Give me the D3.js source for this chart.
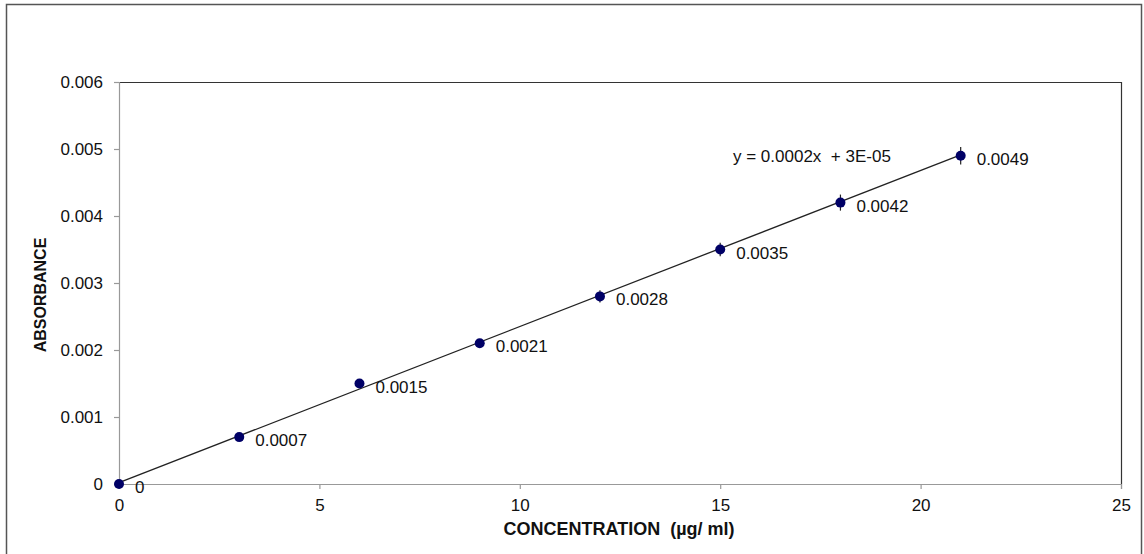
<!DOCTYPE html>
<html><head><meta charset="utf-8">
<script src="https://cdn.jsdelivr.net/npm/d3@7"></script>
<style>body{margin:0;background:#fff}svg{display:block}text{font-family:Arial,"Liberation Sans",sans-serif}</style>
</head><body><svg id="c" width="1144" height="554"></svg>
<script>
const concentration = [0, 3, 6, 9, 12, 15, 18, 21];
const absorbance = [0, 0.0007, 0.0015, 0.0021, 0.0028, 0.0035, 0.0042, 0.0049];
const errors = [0, 0, 0, 0, 0.00009, 0.0001, 0.00012, 0.00013];
const labels = ["0", "0.0007", "0.0015", "0.0021", "0.0028", "0.0035", "0.0042", "0.0049"];
const xTicks = [0, 5, 10, 15, 20, 25];
const yTicks = [0, 0.001, 0.002, 0.003, 0.004, 0.005, 0.006];
const equation = "y = 0.0002x  + 3E-05";
const trendSlope = 0.000233, trendIntercept = 0.00002;

const svg = d3.select("#c");
const L = 119, R = 1121, T = 82, B = 484;
const x = d3.scaleLinear().domain([0, 25]).range([L, R]);
const y = d3.scaleLinear().domain([0, 0.006]).range([B, T]);
const FS = 17;

svg.append("rect").attr("x", 6.5).attr("y", 4.5).attr("width", 1135).attr("height", 560)
  .attr("fill", "none").attr("stroke", "#555").attr("stroke-width", 1.5);

svg.append("path").attr("d", `M${L},${T+0.5}H${R+0.5}V${B}`).attr("fill", "none").attr("stroke", "#333").attr("stroke-width", 1.2);

const fmt = d => d === 0 ? "0" : d3.format(".3f")(d);
const yAxis = svg.append("g").attr("transform", `translate(${L},0)`)
  .call(d3.axisLeft(y).tickValues(yTicks).tickFormat(fmt).tickSize(5).tickPadding(11));
const xAxis = svg.append("g").attr("transform", `translate(0,${B})`)
  .call(d3.axisBottom(x).tickValues(xTicks).tickFormat(d3.format("d")).tickSize(5).tickPadding(10));
[yAxis, xAxis].forEach(g => {
  g.selectAll(".domain, line").attr("stroke", "#999").attr("stroke-width", 1.2);
  g.selectAll("text").attr("font-size", FS).attr("fill", "#111").attr("font-family", "Arial, 'Liberation Sans', sans-serif");
});

svg.append("line")
  .attr("x1", x(0)).attr("y1", y(trendIntercept))
  .attr("x2", x(21)).attr("y2", y(trendSlope * 21 + trendIntercept))
  .attr("stroke", "#222").attr("stroke-width", 1.3);

svg.append("g").selectAll("line").data(concentration).join("line")
  .attr("x1", d => x(d)).attr("x2", d => x(d))
  .attr("y1", (d, i) => y(absorbance[i] - errors[i]))
  .attr("y2", (d, i) => y(absorbance[i] + errors[i]))
  .attr("stroke", "#222").attr("stroke-width", 1.2);

svg.append("g").selectAll("circle").data(concentration).join("circle")
  .attr("cx", d => x(d)).attr("cy", (d, i) => y(absorbance[i])).attr("r", 5)
  .attr("fill", "#000066");

svg.append("g").selectAll("text").data(concentration).join("text")
  .attr("x", d => x(d) + 16).attr("y", (d, i) => y(absorbance[i]) + 9)
  .attr("font-size", FS).attr("fill", "#111").text((d, i) => labels[i]);

svg.append("text").attr("x", 733).attr("y", 162).attr("font-size", FS).attr("fill", "#111")
  .style("white-space", "pre").text(equation);

svg.append("text").attr("transform", `translate(46,${(T+B)/2 + 12}) rotate(-90)`)
  .attr("text-anchor", "middle").attr("font-size", 16).attr("font-weight", "bold").attr("fill", "#111")
  .text("ABSORBANCE");
svg.append("text").attr("x", 619).attr("y", 535)
  .attr("text-anchor", "middle").attr("font-size", 18).attr("font-weight", "bold").attr("fill", "#111")
  .style("white-space", "pre").text("CONCENTRATION  (µg/ ml)");
</script></body></html>
